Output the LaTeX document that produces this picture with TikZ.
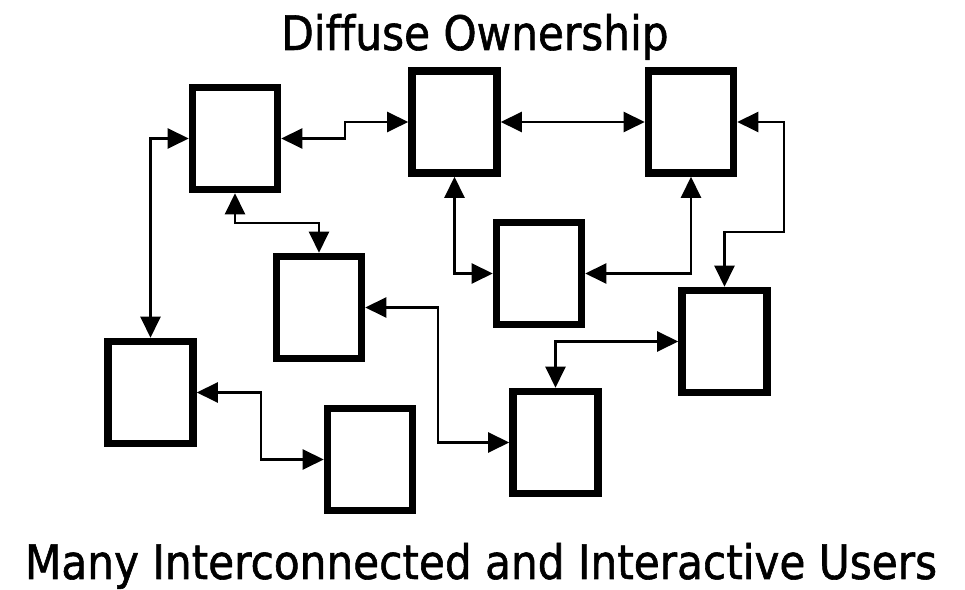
\documentclass[tikz,border=0pt]{standalone}
\usepackage{fontspec}
\usepackage{tikz}
\usetikzlibrary{arrows.meta}
\newfontfamily\userfont[FakeStretch=0.89, FakeBold=1.2, Ligatures={NoCommon}]{DejaVu Sans}

\begin{document}
\begin{tikzpicture}[x=0.02cm, y=-0.02cm,
    user/.style={rectangle, draw, line width=4.3pt, minimum width=1.7cm, minimum height=2.04cm, inner sep=0pt},
    line/.style={draw, {Triangle[length=0.42cm,width=0.4cm]}-{Triangle[length=0.42cm,width=0.4cm]}, line width=1.2pt},
    caption/.style={font=\userfont\fontsize{27}{32}\selectfont, anchor=base}]
    \useasboundingbox (0,0) rectangle (965,590);

    % Users
    \node [user] (a) at (235,138.5) {};
    \node [user] (b) at (454.5,122) {};
    \node [user] (c) at (691,122) {};
    \node [user] (d) at (539,273.5) {};
    \node [user] (e) at (319,307.5) {};
    \node [user] (f) at (724.5,341.5) {};
    \node [user] (g) at (150.5,392.5) {};
    \node [user] (h) at (555.5,442.5) {};
    \node [user] (i) at (370,459.5) {};

    % Connectors
    \draw [line] (a.east) -- ++(64,0) |- (b.west);
    \draw [line] (b.east) -- (c.west);
    \draw [line] (c.east) -| (784,232) -| (f.north);
    \draw [line] (b.south) |- (d.west);
    \draw [line] (c.south) |- (d.east);
    \draw [line] (a.south) -- ++(0,30) -| (e.north);
    \draw [line] (a.west) -| (g.north);
    \draw [line] (g.east) -- ++(64,0) |- (i.west);
    \draw [line] (e.east) -- ++(73,0) |- (h.west);
    \draw [line] (f.west) -| (h.north);

    % Captions
    \node [caption] (title) at (475,50) {Diffuse Ownership};
    \node [caption] (users) at (481,579) {Many Interconnected and Interactive Users};
\end{tikzpicture}
\end{document}
